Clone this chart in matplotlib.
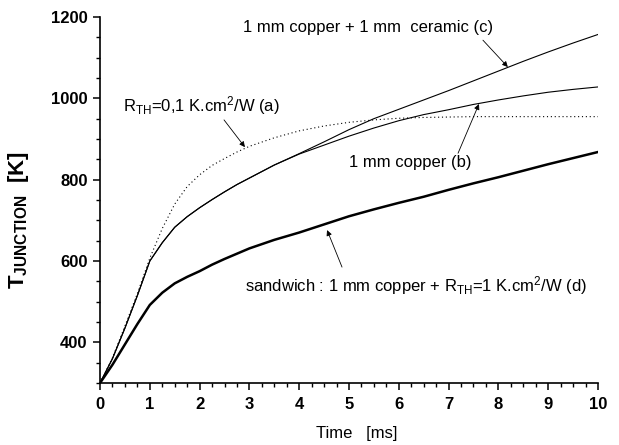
import matplotlib
matplotlib.use("Agg")
import matplotlib.pyplot as plt
from matplotlib.ticker import MultipleLocator

plt.rcParams['font.family'] = ['Liberation Sans', 'DejaVu Sans']
plt.rcParams['mathtext.fontset'] = 'custom'
plt.rcParams['mathtext.rm'] = 'Liberation Sans'
plt.rcParams['mathtext.bf'] = 'Liberation Sans:bold'
plt.rcParams['mathtext.it'] = 'Liberation Sans:italic'

time_ms = [0, 0.25, 0.5, 0.75, 1, 1.25, 1.5, 1.75, 2, 2.25, 2.5, 2.75, 3, 3.5, 4,
           4.5, 5, 5.5, 6, 6.5, 7, 7.5, 8, 8.5, 9, 9.5, 10]
t_a = [300, 362, 440, 520, 607, 680, 740, 783, 812, 835, 852, 868, 882, 903, 920,
       932, 941, 947, 951, 953, 954, 955, 955, 955, 955, 955, 955]
t_b = [300, 360, 435, 515, 600, 645, 683, 709, 731, 751, 770, 788, 804, 836, 863,
       885, 907, 927, 945, 960, 972, 985, 996, 1006, 1015, 1022, 1028]
t_c = [300, 360, 435, 515, 600, 645, 683, 709, 731, 751, 770, 788, 804, 836, 864,
       893, 923, 950, 973, 996, 1019, 1043, 1067, 1091, 1114, 1136, 1157]
t_d = [300, 345, 395, 445, 492, 522, 545, 561, 575, 591, 605, 618, 631, 652, 670,
       690, 710, 727, 743, 758, 775, 791, 806, 822, 838, 853, 868]

fig = plt.figure(figsize=(6.19, 4.45), dpi=100)
ax = fig.add_axes([0.1616, 0.1393, 0.8044, 0.8225])

ax.plot(time_ms, t_a, color='black', lw=0.8, linestyle=(0, (1, 2.5)))
ax.plot(time_ms, t_b, color='black', lw=0.8)
ax.plot(time_ms, t_c, color='black', lw=0.8)
ax.plot(time_ms, t_d, color='black', lw=1.8)

ax.set_xlim(0, 10)
ax.set_ylim(300, 1200)
ax.xaxis.set_major_locator(MultipleLocator(1))
ax.xaxis.set_minor_locator(MultipleLocator(0.25))
ax.set_yticks([400, 600, 800, 1000, 1200])
ax.yaxis.set_minor_locator(MultipleLocator(50))
for s in ['top', 'right']:
    ax.spines[s].set_visible(False)
for s in ['left', 'bottom']:
    ax.spines[s].set_linewidth(1.2)
ax.tick_params(which='major', length=5, width=1.1, labelsize=12, direction='out')
ax.tick_params(which='minor', length=3, width=1.0, direction='out')
ax.tick_params(axis='x', which='major', pad=5)
ax.tick_params(axis='y', which='major', pad=4)
for lab in ax.get_xticklabels() + ax.get_yticklabels():
    lab.set_fontweight('bold')

ax.set_xlabel('Time   [ms]', fontsize=12, x=0.516, labelpad=10)
ax.set_ylabel(r'T$_{\mathbf{JUNCTION}}$  [K]', fontsize=16, fontweight='bold',
              y=0.445, labelpad=14)

fs = 12
ax.text(2.87, 1173, '1 mm copper + 1 mm  ceramic (c)', fontsize=fs, ha='left', va='center')
ax.text(0.46, 983, r'R$_{\rm TH}$=0,1 K.cm$^2$/W (a)', fontsize=fs, ha='left', va='center')
ax.text(5.0, 841, '1 mm copper (b)', fontsize=fs, ha='left', va='center')
ax.text(2.91, 539, r'sandwich : 1 mm copper + R$_{\rm TH}$=1 K.cm$^2$/W (d)',
        fontsize=fs, ha='left', va='center')

arrow = dict(arrowstyle='-|>', color='black', lw=0.6, mutation_scale=8,
             shrinkA=0, shrinkB=0)
ax.annotate('', xy=(8.19, 1077), xytext=(7.69, 1143), arrowprops=arrow)
ax.annotate('', xy=(2.91, 880), xytext=(2.49, 947), arrowprops=arrow)
ax.annotate('', xy=(7.61, 986), xytext=(7.19, 865), arrowprops=arrow)
ax.annotate('', xy=(4.56, 676), xytext=(4.86, 585), arrowprops=arrow)

fig.savefig('out.png', dpi=100)
